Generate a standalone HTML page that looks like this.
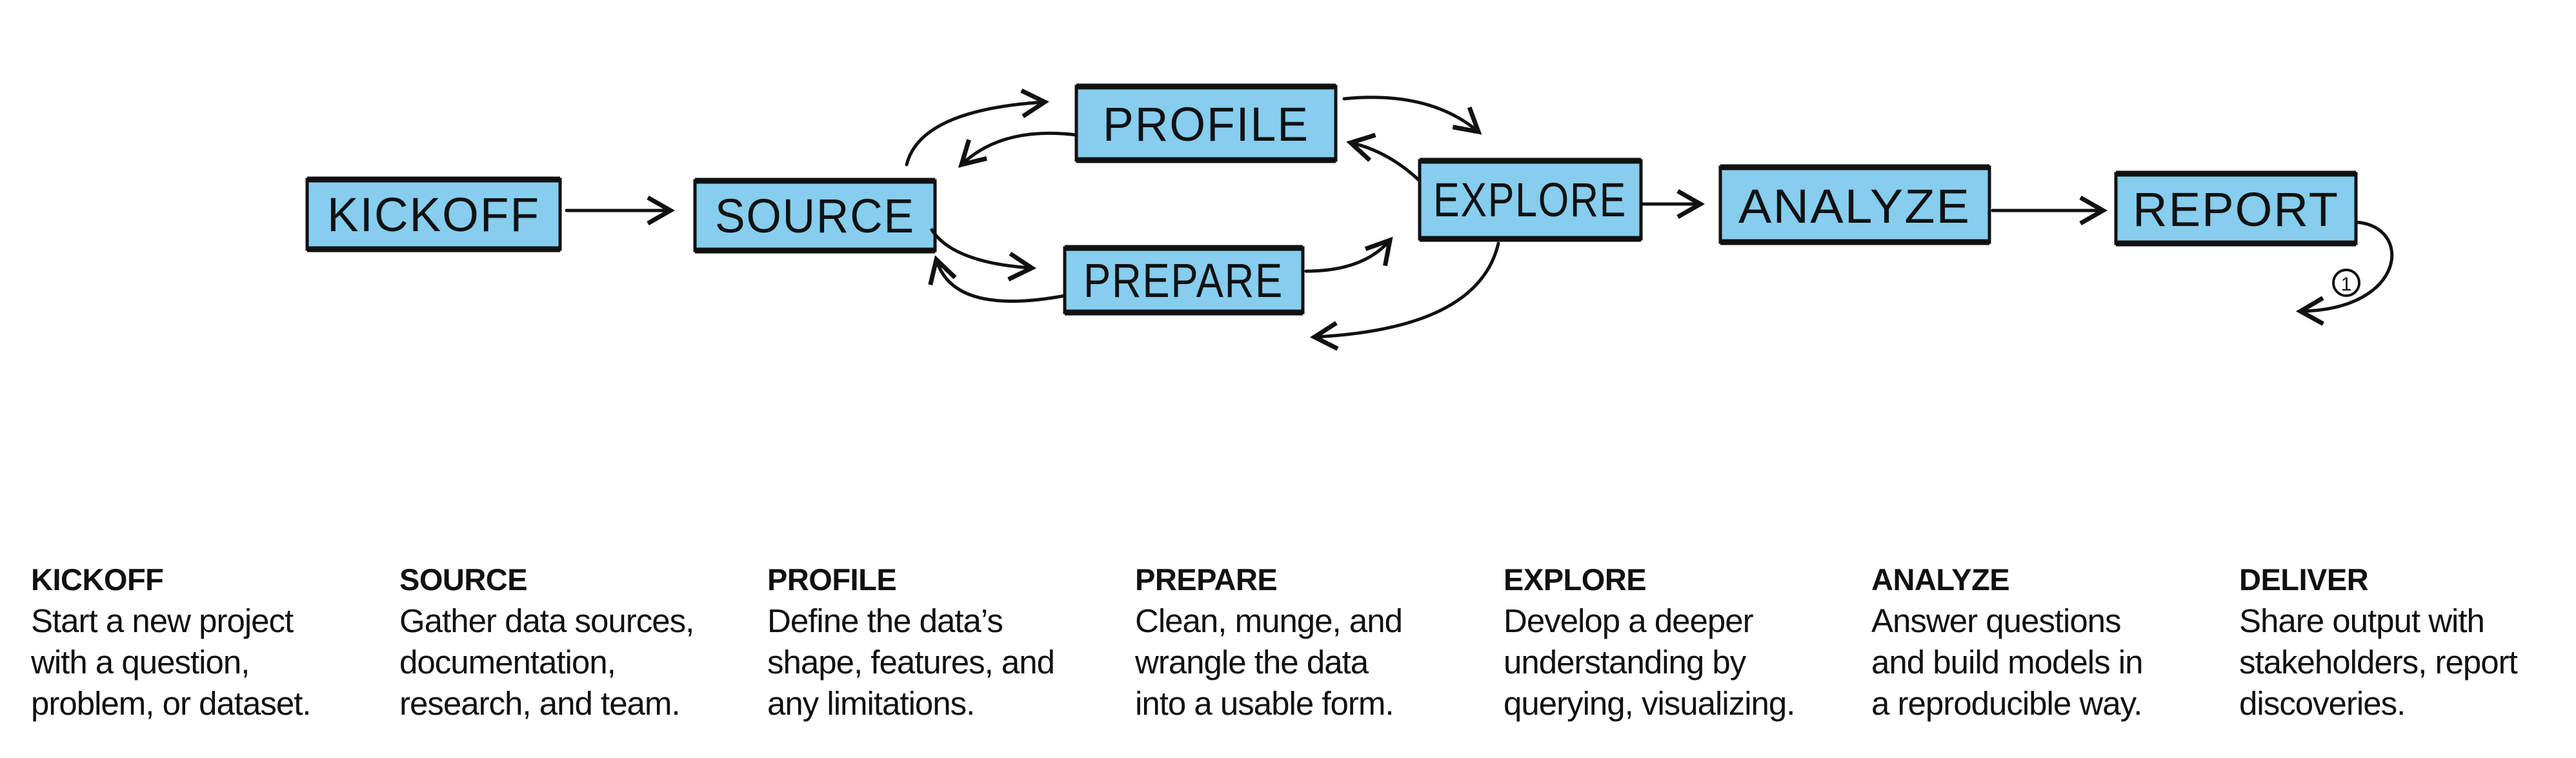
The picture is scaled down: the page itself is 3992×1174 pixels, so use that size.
<!DOCTYPE html>
<html><head><meta charset="utf-8"><style>
html,body{margin:0;padding:0;background:#fff;}
body{width:3992px;height:1174px;position:relative;overflow:hidden;font-family:"Liberation Sans",sans-serif;}
.col{position:absolute;top:866px;width:560px;color:#111;}
.col h3{margin:0;font-size:47px;font-weight:bold;line-height:64px;letter-spacing:-0.5px;}
.col p{margin:0;font-size:51px;line-height:64px;letter-spacing:-1px;}
svg{position:absolute;left:0;top:0;}
</style></head><body>
<svg width="3992" height="1174" viewBox="0 0 3992 1174">
<defs>
<marker id="a" markerWidth="10" markerHeight="10" refX="8" refY="5" orient="auto" markerUnits="strokeWidth">
<path d="M1,1 L8,5 L1,9" fill="none" stroke="#111" stroke-width="1.4"/>
</marker>
</defs>
<g fill="#86cdee" stroke="#111" stroke-width="5">
<rect x="476" y="278" width="392" height="108"/>
<rect x="1077" y="280" width="372" height="108"/>
<rect x="1668" y="134" width="402" height="114"/>
<rect x="1650" y="384" width="369" height="100"/>
<rect x="2200" y="249" width="343" height="121"/>
<rect x="2666" y="259" width="417" height="116"/>
<rect x="3279" y="269" width="372" height="108"/>
</g>
<g stroke="#111" stroke-width="9" fill="none">
<line x1="476" y1="278" x2="868" y2="278"/><line x1="476" y1="386" x2="868" y2="386"/>
<line x1="1077" y1="280" x2="1449" y2="280"/><line x1="1077" y1="388" x2="1449" y2="388"/>
<line x1="1668" y1="134" x2="2070" y2="134"/><line x1="1668" y1="248" x2="2070" y2="248"/>
<line x1="1650" y1="384" x2="2019" y2="384"/><line x1="1650" y1="484" x2="2019" y2="484"/>
<line x1="2200" y1="249" x2="2543" y2="249"/><line x1="2200" y1="370" x2="2543" y2="370"/>
<line x1="2666" y1="259" x2="3083" y2="259"/><line x1="2666" y1="375" x2="3083" y2="375"/>
<line x1="3279" y1="269" x2="3651" y2="269"/><line x1="3279" y1="377" x2="3651" y2="377"/>
</g>
<g font-family="Liberation Sans, sans-serif" font-size="74" fill="#111" text-anchor="middle" letter-spacing="2">
<text x="672" y="358" textLength="330" lengthAdjust="spacingAndGlyphs">KICKOFF</text>
<text x="1263" y="360" textLength="310" lengthAdjust="spacingAndGlyphs">SOURCE</text>
<text x="1869" y="218" textLength="320" lengthAdjust="spacingAndGlyphs">PROFILE</text>
<text x="1834" y="460" textLength="310" lengthAdjust="spacingAndGlyphs">PREPARE</text>
<text x="2371" y="335" textLength="300" lengthAdjust="spacingAndGlyphs">EXPLORE</text>
<text x="2874" y="345" textLength="360" lengthAdjust="spacingAndGlyphs">ANALYZE</text>
<text x="3465" y="350" textLength="320" lengthAdjust="spacingAndGlyphs">REPORT</text>
</g>
<g stroke="#111" stroke-width="5" fill="none" marker-end="url(#a)" stroke-linecap="round">
<path d="M878,326 L1039,326"/>
<path d="M1405,255 Q1426,170 1619,158"/>
<path d="M1668,209 Q1553,195 1490,255"/>
<path d="M1444,356 Q1477,407 1599,415"/>
<path d="M1650,458 Q1477,490 1451,402"/>
<path d="M2083,153 Q2215,140 2291,204"/>
<path d="M2200,280 Q2151,234 2093,221"/>
<path d="M2024,420 Q2113,420 2154,372"/>
<path d="M2322,377 Q2291,509 2037,522"/>
<path d="M2546,316 L2635,316"/>
<path d="M3088,326 L3259,326"/>
<path d="M3651,344 C3740,350 3730,480 3565,482"/>
</g>
<circle cx="3636" cy="438" r="20" fill="none" stroke="#111" stroke-width="4"/>
<text x="3636" y="450" font-family="Liberation Sans, sans-serif" font-size="30" text-anchor="middle" fill="#111">1</text>
</svg>
<div class="col" style="left:48px"><h3>KICKOFF</h3><p>Start a new project<br>with a question,<br>problem, or dataset.</p></div>
<div class="col" style="left:619px"><h3>SOURCE</h3><p>Gather data sources,<br>documentation,<br>research, and team.</p></div>
<div class="col" style="left:1189px"><h3>PROFILE</h3><p>Define the data’s<br>shape, features, and<br>any limitations.</p></div>
<div class="col" style="left:1759px"><h3>PREPARE</h3><p>Clean, munge, and<br>wrangle the data<br>into a usable form.</p></div>
<div class="col" style="left:2330px"><h3>EXPLORE</h3><p>Develop a deeper<br>understanding by<br>querying, visualizing.</p></div>
<div class="col" style="left:2900px"><h3>ANALYZE</h3><p>Answer questions<br>and build models in<br>a reproducible way.</p></div>
<div class="col" style="left:3470px"><h3>DELIVER</h3><p>Share output with<br>stakeholders, report<br>discoveries.</p></div>
</body></html>
